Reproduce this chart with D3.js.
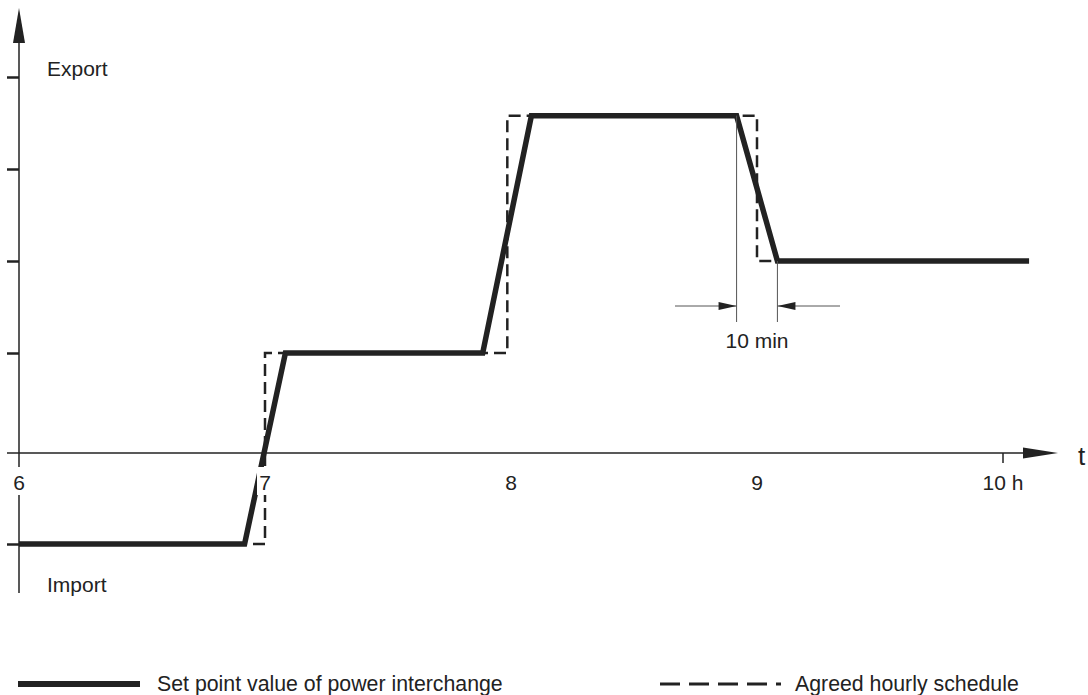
<!DOCTYPE html>
<html>
<head>
<meta charset="utf-8">
<script src="https://cdn.jsdelivr.net/npm/d3@7"></script>
<style>
  body { margin: 0; background: #fff; }
  text { font-family: "Liberation Sans", Arial, sans-serif; fill: #222; }
</style>
</head>
<body>
<div id="chart"></div>
<script>
// hours of the day on x, interchange level (arbitrary units) on y
var hourTicks = [6, 7, 8, 9, 10];
var hourLabels = ["6", "7", "8", "9", "10 h"];
var levelTicks = [-1, 1, 2, 3, 4];

// set point value of power interchange (ramped)
var setPointHours = [6, 6.917, 7.083, 7.885, 8.083, 8.917, 9.083, 10.106];
var setPointLevels = [-1, -1, 1, 1, 3.58, 3.58, 2, 2];

// agreed hourly schedule (steps)
var scheduleHours = [6, 7, 7, 7.985, 7.985, 9, 9, 10.106];
var scheduleLevels = [-1, -1, 1, 1, 3.58, 3.58, 2, 2];

var w = 1088;
var h = 695;
var ink = "#222";

var svg = d3.select("#chart").append("svg").attr("width", w).attr("height", h);

var x = d3.scaleLinear().domain([6, 10]).range([19, 1003]);
var y = d3.scaleLinear().domain([-1, 0, 1, 4]).range([544, 453, 353, 77]);

// y axis ticks (left side only)
var yAxis = d3.axisLeft(y).tickValues(levelTicks).tickSize(12).tickSizeOuter(0).tickFormat("");
var gy = svg.append("g").attr("transform", "translate(" + x(6) + ",0)").call(yAxis);
gy.select(".domain").remove();
gy.selectAll(".tick line").attr("stroke", ink).attr("stroke-width", 2.5);

// axis lines
svg.append("line").attr("x1", x(6)).attr("x2", x(6)).attr("y1", 40).attr("y2", 593)
	.attr("stroke", ink).attr("stroke-width", 1.5);
svg.append("line").attr("x1", 7).attr("x2", 1030).attr("y1", y(0)).attr("y2", y(0))
	.attr("stroke", ink).attr("stroke-width", 1.5);
// arrow heads
svg.append("path").attr("d", "M" + x(6) + ",8 L" + (x(6) - 6) + ",43 L" + (x(6) + 6) + ",43 Z").attr("fill", ink);
svg.append("path").attr("d", "M1058," + y(0) + " L1023," + (y(0) - 5.5) + " L1023," + (y(0) + 5.5) + " Z").attr("fill", ink);
// tick at 10 h
svg.append("line").attr("x1", x(10)).attr("x2", x(10)).attr("y1", y(0)).attr("y2", y(0) + 10)
	.attr("stroke", ink).attr("stroke-width", 1.5);

svg.append("text").attr("x", 1078).attr("y", 465).attr("font-size", 26).text("t");
svg.append("text").attr("x", 47).attr("y", 76).attr("font-size", 21).text("Export");
svg.append("text").attr("x", 47).attr("y", 592).attr("font-size", 21).text("Import");

var line = d3.line().x(function(d) { return x(d[0]); }).y(function(d) { return y(d[1]); });

var scheduleData = scheduleHours.map(function(d, i) { return [d, scheduleLevels[i]]; });
var setPointData = setPointHours.map(function(d, i) { return [d, setPointLevels[i]]; });

svg.append("path").datum(scheduleData).attr("d", line).attr("fill", "none")
	.attr("stroke", ink).attr("stroke-width", 2.5).attr("stroke-dasharray", "12,6");
svg.append("path").datum(setPointData).attr("d", line).attr("fill", "none")
	.attr("stroke", ink).attr("stroke-width", 5.5).attr("stroke-linejoin", "miter");

// 10 min dimension
var dimY = 306;
var r0 = x(8.917), r1 = x(9.083);
svg.append("line").attr("x1", r0).attr("x2", r0).attr("y1", y(3.58)).attr("y2", 322)
	.attr("stroke", "#555").attr("stroke-width", 1);
svg.append("line").attr("x1", r1).attr("x2", r1).attr("y1", y(2)).attr("y2", 322)
	.attr("stroke", "#555").attr("stroke-width", 1);
svg.append("line").attr("x1", 675).attr("x2", r0).attr("y1", dimY).attr("y2", dimY).attr("stroke", "#555").attr("stroke-width", 1);
svg.append("line").attr("x1", r1).attr("x2", 840).attr("y1", dimY).attr("y2", dimY).attr("stroke", "#555").attr("stroke-width", 1);
svg.append("path").attr("d", "M" + r0 + "," + dimY + " L" + (r0 - 18) + "," + (dimY - 4) + " L" + (r0 - 18) + "," + (dimY + 4) + " Z").attr("fill", ink);
svg.append("path").attr("d", "M" + r1 + "," + dimY + " L" + (r1 + 18) + "," + (dimY - 4) + " L" + (r1 + 18) + "," + (dimY + 4) + " Z").attr("fill", ink);
svg.append("text").attr("x", (r0 + r1) / 2).attr("y", 348).attr("text-anchor", "middle").attr("font-size", 21).text("10 min");

// hour labels on white boxes
var lab = svg.selectAll(".hl").data(hourTicks).enter().append("g").attr("class", "hl");
lab.append("rect").attr("x", function(d, i) { return x(d) - (i == 4 ? 23 : 8); })
	.attr("y", 467).attr("width", function(d, i) { return i == 4 ? 46 : 16; }).attr("height", 28).attr("fill", "#fff");
lab.append("text").attr("x", function(d) { return x(d); }).attr("y", 490).attr("text-anchor", "middle")
	.attr("font-size", 21).text(function(d, i) { return hourLabels[i]; });

// legend
svg.append("line").attr("x1", 18).attr("x2", 140).attr("y1", 684).attr("y2", 684).attr("stroke", ink).attr("stroke-width", 6);
svg.append("text").attr("x", 157).attr("y", 691).attr("font-size", 21.3).text("Set point value of power interchange");
svg.append("line").attr("x1", 660).attr("x2", 781).attr("y1", 684).attr("y2", 684).attr("stroke", ink).attr("stroke-width", 3).attr("stroke-dasharray", "20,9");
svg.append("text").attr("x", 795).attr("y", 691).attr("font-size", 21.3).text("Agreed hourly schedule");
</script>
</body>
</html>
